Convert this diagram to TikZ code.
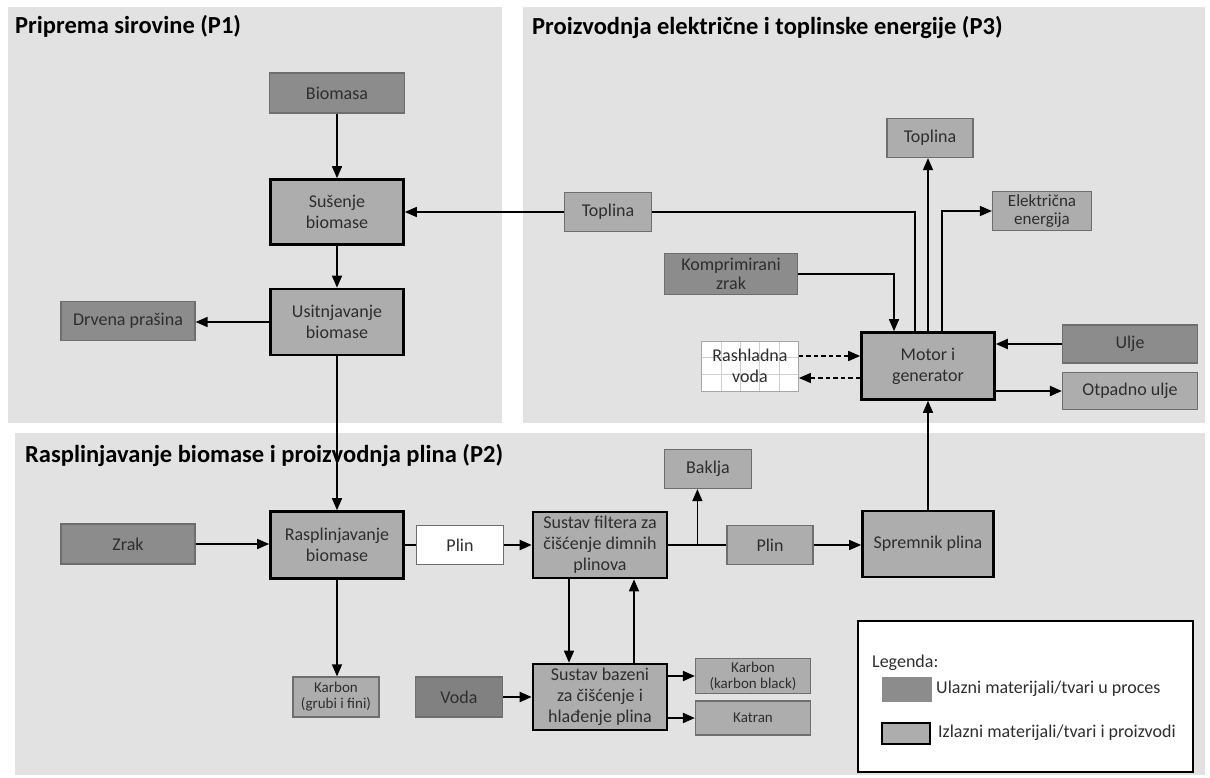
\documentclass[tikz,border=0pt]{standalone}
\usepackage{fontspec}
\setmainfont{Carlito}
\usetikzlibrary{arrows.meta,calc}
\definecolor{panelgray}{HTML}{E2E2E2}
\definecolor{ingray}{HTML}{8C8C8C}
\definecolor{outgray}{HTML}{ADADAD}
\definecolor{edgegray}{HTML}{6E6E6E}
\definecolor{gridgray}{HTML}{CFCFCF}
\definecolor{inkgray}{HTML}{2E2E2E}

\begin{document}
\begin{tikzpicture}[x=1pt,y=-1pt,
  panel/.style={fill=panelgray},
  ttl/.style={anchor=base west,inner sep=0pt,font=\fontsize{24.5}{29}\selectfont\bfseries},
  bx/.style={align=center,inner sep=0pt,text=inkgray,font=\fontsize{18}{21}\selectfont},
  procbox/.style={bx,draw=black,line width=2.6pt,fill=outgray},
  inbox/.style={bx,draw=edgegray,line width=1.2pt,fill=ingray},
  outbox/.style={bx,draw=edgegray,line width=1.2pt,fill=outgray},
  smallbox/.style={outbox,font=\fontsize{15}{16}\selectfont},
  legtxt/.style={anchor=west,inner sep=0pt,text=inkgray,font=\fontsize{18}{21}\selectfont},
  rashbox/.style={bx,draw=gridgray!80!black,line width=0.8pt,fill=white,
    path picture={
      \foreach \f in {0.2,0.4,0.6,0.8}
        \draw[gridgray,line width=0.7pt] ($(path picture bounding box.south west)!\f!(path picture bounding box.south east)$) -- ($(path picture bounding box.north west)!\f!(path picture bounding box.north east)$);
      \foreach \f in {0.33,0.67}
        \draw[gridgray,line width=0.7pt] ($(path picture bounding box.south west)!\f!(path picture bounding box.north west)$) -- ($(path picture bounding box.south east)!\f!(path picture bounding box.north east)$);
    }},
  link/.style={line width=1.5pt},
  flow/.style={link,-{Triangle[length=12pt,width=10pt]}},
  coolflow/.style={flow,dash pattern=on 4.5pt off 3pt},
]
\path[use as bounding box] (0,0) rectangle (1210,778);
\fill[white] (0,0) rectangle (1210,778);

% panels
\fill[panel] (8,7) rectangle (502,423);
\fill[panel] (523,7) rectangle (1205,423);
\fill[panel] (15,433) rectangle (1205,775);
\node[ttl] (ttlone) at (15,34) {Priprema sirovine (P1)};
\node[ttl] (ttlthree) at (532,35) {Proizvodnja električne i toplinske energije (P3)};
\node[ttl] (ttltwo) at (25,462) {Rasplinjavanje biomase i proizvodnja plina (P2)};

% P1
\node[inbox,minimum width=135pt,minimum height=40pt] (biom) at (337,93) {Biomasa};
\node[procbox,minimum width=133pt,minimum height=65pt] (suse) at (337,212) {Sušenje\\biomase};
\node[procbox,minimum width=133pt,minimum height=66pt] (usit) at (337,322) {Usitnjavanje\\biomase};
\node[inbox,minimum width=134pt,minimum height=39pt] (drv) at (128,321) {Drvena prašina};

% P3
\node[outbox,minimum width=87pt,minimum height=39pt] (toplA) at (608,212) {Toplina};
\node[outbox,minimum width=86pt,minimum height=39pt] (toplB) at (930,138) {Toplina};
\node[outbox,minimum width=99pt,minimum height=39pt,font=\fontsize{17}{18}\selectfont] (elek) at (1042,211) {Električna\\energija};
\node[inbox,minimum width=133pt,minimum height=41pt,font=\fontsize{18}{19}\selectfont] (kompr) at (731,274) {Komprimirani\\zrak};
\node[rashbox,minimum width=97pt,minimum height=50pt] (rash) at (750,366) {Rashladna\\voda};
\node[procbox,minimum width=133pt,minimum height=67pt] (motor) at (928,366) {Motor i\\generator};
\node[inbox,minimum width=135pt,minimum height=38pt] (ulje) at (1130,344) {Ulje};
\node[outbox,minimum width=135pt,minimum height=37pt] (otp) at (1130,391) {Otpadno ulje};

% P2
\node[procbox,minimum width=133pt,minimum height=67pt] (rasp) at (337,545) {Rasplinjavanje\\biomase};
\node[inbox,minimum width=134pt,minimum height=40pt] (zrak) at (128,544) {Zrak};
\node[outbox,fill=white,minimum width=87pt,minimum height=39pt] (plinA) at (460,545) {Plin};
\node[procbox,minimum width=134pt,minimum height=66pt] (filt) at (600,545) {Sustav filtera za\\čišćenje dimnih\\plinova};
\node[outbox,minimum width=87pt,minimum height=39pt] (bakl) at (708,469) {Baklja};
\node[outbox,minimum width=86pt,minimum height=39pt] (plinB) at (770,545) {Plin};
\node[procbox,minimum width=131pt,minimum height=66pt] (sprem) at (928,544) {Spremnik plina};
\node[smallbox,minimum width=86pt,minimum height=40pt] (karbA) at (336,697) {Karbon\\(grubi i fini)};
\node[inbox,fill=ingray!92!black,minimum width=87pt,minimum height=40pt] (voda) at (459,697) {Voda};
\node[procbox,minimum width=134pt,minimum height=66pt] (baz) at (600,697) {Sustav bazeni\\za čišćenje i\\hlađenje plina};
\node[smallbox,minimum width=115pt,minimum height=35pt] (karbB) at (753,676) {Karbon\\(karbon black)};
\node[smallbox,minimum width=115pt,minimum height=34pt] (katr) at (753,718) {Katran};

% legenda
\node[draw=black,line width=2.2pt,fill=white,minimum width=335pt,minimum height=151pt,inner sep=0pt] (legbox) at (1025.5,696.5) {};
\node[legtxt] (legttl) at (872,663) {Legenda:};
\node[inbox,draw=none,minimum width=50pt,minimum height=25pt] (legin) at (907,689.5) {};
\node[legtxt] (legintxt) at (936,689) {Ulazni materijali/tvari u proces};
\node[procbox,line width=2pt,minimum width=48pt,minimum height=21pt] (legout) at (905.5,733) {};
\node[legtxt] (legouttxt) at (938,733) {Izlazni materijali/tvari i proizvodi};

% tokovi P1
\draw[flow] (biom) -- (suse);
\draw[flow] (suse) -- (usit);
\draw[flow] (usit.west) -- (usit.west -| drv.east);
\draw[flow] (usit) -- (rasp);

% tokovi P3
\draw[link] ([xshift=-13pt]motor.north) |- (toplA.east);
\draw[flow] (toplA.west) -- (toplA.west -| suse.east);
\draw[flow] (motor.north) -- (motor.north |- toplB.south);
\draw[flow] ([xshift=14pt]motor.north) |- (elek.west);
\draw[flow] (kompr.east) -| ([xshift=-34pt]motor.north);
\draw[flow,line width=2.2pt] (ulje.west) -- (ulje.west -| motor.east);
\draw[flow,line width=2.2pt] (motor.east |- otp.west) -- (otp.west);
\draw[coolflow] ([yshift=10pt]rash.east) -- ([yshift=10pt]motor.west);
\draw[coolflow] ([yshift=-12pt]motor.west) -- ([yshift=-12pt]rash.east);

% tokovi P2
\draw[flow] (zrak.east) -- (zrak.east -| rasp.west);
\draw[link,line width=2pt] (rasp.east) -- (plinA.west);
\draw[flow,line width=2pt] (plinA.east) -- (filt.west);
\draw[link] (filt.east) -- (plinB.west);
\coordinate (bjunc) at ([xshift=-29pt]plinB.west);
\draw[flow] (bjunc) -- (bjunc |- bakl.south);
\draw[flow] (plinB.east) -- (plinB.east -| sprem.west);
\draw[flow] (sprem.north) -- (sprem.north |- motor.south);
\draw[flow] (rasp.south) -- (rasp.south |- karbA.north);
\draw[flow] ([xshift=-31pt]filt.south) -- ([xshift=-31pt]baz.north);
\draw[flow] ([xshift=34pt]baz.north) -- ([xshift=34pt]filt.south);
\draw[flow,line width=2pt] (voda.east) -- (baz.west);
\draw[flow,line width=2pt] (baz.east |- karbB.west) -- (karbB.west);
\draw[flow,line width=2pt] (baz.east |- katr.west) -- (katr.west);
\end{tikzpicture}
\end{document}
